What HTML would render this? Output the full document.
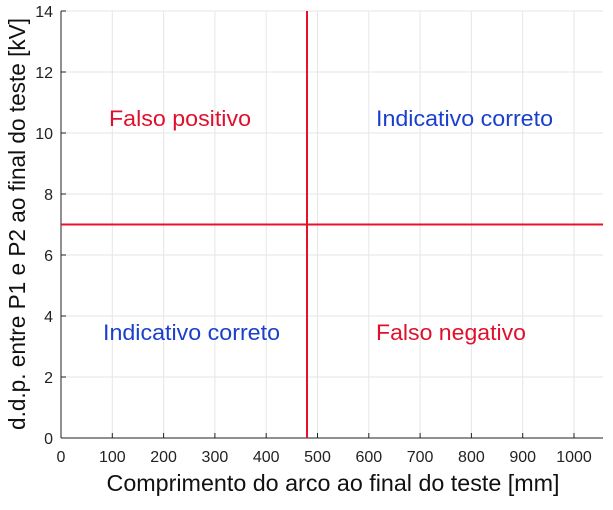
<!DOCTYPE html>
<html><head><style>body{margin:0;background:#fff}</style></head><body>
<svg width="613" height="505" xmlns="http://www.w3.org/2000/svg" font-family="Liberation Sans, sans-serif">
<g stroke="#e6e6e6" stroke-width="1">
<line x1="112.3" y1="11" x2="112.3" y2="438"/><line x1="163.6" y1="11" x2="163.6" y2="438"/><line x1="214.9" y1="11" x2="214.9" y2="438"/><line x1="266.2" y1="11" x2="266.2" y2="438"/><line x1="317.5" y1="11" x2="317.5" y2="438"/><line x1="368.8" y1="11" x2="368.8" y2="438"/><line x1="420.1" y1="11" x2="420.1" y2="438"/><line x1="471.4" y1="11" x2="471.4" y2="438"/><line x1="522.7" y1="11" x2="522.7" y2="438"/><line x1="574" y1="11" x2="574" y2="438"/>
<line x1="61" y1="377" x2="603" y2="377"/><line x1="61" y1="316" x2="603" y2="316"/><line x1="61" y1="255" x2="603" y2="255"/><line x1="61" y1="194" x2="603" y2="194"/><line x1="61" y1="133" x2="603" y2="133"/><line x1="61" y1="72" x2="603" y2="72"/><line x1="61" y1="11" x2="603" y2="11"/>
</g>
<g stroke="#222" stroke-width="1">
<line x1="61" y1="11" x2="61" y2="438"/><line x1="61" y1="438" x2="603" y2="438"/>
<line x1="112.3" y1="438" x2="112.3" y2="433"/><line x1="163.6" y1="438" x2="163.6" y2="433"/><line x1="214.9" y1="438" x2="214.9" y2="433"/><line x1="266.2" y1="438" x2="266.2" y2="433"/><line x1="317.5" y1="438" x2="317.5" y2="433"/><line x1="368.8" y1="438" x2="368.8" y2="433"/><line x1="420.1" y1="438" x2="420.1" y2="433"/><line x1="471.4" y1="438" x2="471.4" y2="433"/><line x1="522.7" y1="438" x2="522.7" y2="433"/><line x1="574" y1="438" x2="574" y2="433"/>
<line x1="61" y1="377" x2="66" y2="377"/><line x1="61" y1="316" x2="66" y2="316"/><line x1="61" y1="255" x2="66" y2="255"/><line x1="61" y1="194" x2="66" y2="194"/><line x1="61" y1="133" x2="66" y2="133"/><line x1="61" y1="72" x2="66" y2="72"/><line x1="61" y1="11" x2="66" y2="11"/>
</g>
<g stroke="#e8102a" stroke-width="2">
<line x1="307" y1="11" x2="307" y2="438"/><line x1="61" y1="224.5" x2="603" y2="224.5"/>
</g>
<g font-size="16" fill="#222" text-anchor="middle">
<text x="61" y="462">0</text><text x="112.3" y="462">100</text><text x="163.6" y="462">200</text><text x="214.9" y="462">300</text><text x="266.2" y="462">400</text><text x="317.5" y="462">500</text><text x="368.8" y="462">600</text><text x="420.1" y="462">700</text><text x="471.4" y="462">800</text><text x="522.7" y="462">900</text><text x="574" y="462">1000</text>
</g>
<g font-size="16" fill="#222" text-anchor="end">
<text x="53" y="444">0</text><text x="53" y="383">2</text><text x="53" y="322">4</text><text x="53" y="261">6</text><text x="53" y="200">8</text><text x="53" y="139">10</text><text x="53" y="78">12</text><text x="53" y="17">14</text>
</g>
<text x="333" y="491" font-size="23" fill="#111" text-anchor="middle" textLength="453" lengthAdjust="spacingAndGlyphs">Comprimento do arco ao final do teste [mm]</text>
<text transform="translate(25,224) rotate(-90)" font-size="23" fill="#111" text-anchor="middle" textLength="412" lengthAdjust="spacingAndGlyphs">d.d.p. entre P1 e P2 ao final do teste [kV]</text>
<g font-size="22">
<text x="109" y="126" fill="#e0102c" textLength="142" lengthAdjust="spacingAndGlyphs">Falso positivo</text>
<text x="376" y="126" fill="#1a3fcc" textLength="177" lengthAdjust="spacingAndGlyphs">Indicativo correto</text>
<text x="103" y="340" fill="#1a3fcc" textLength="177" lengthAdjust="spacingAndGlyphs">Indicativo correto</text>
<text x="376" y="340" fill="#e0102c" textLength="150" lengthAdjust="spacingAndGlyphs">Falso negativo</text>
</g>
</svg>
</body></html>
